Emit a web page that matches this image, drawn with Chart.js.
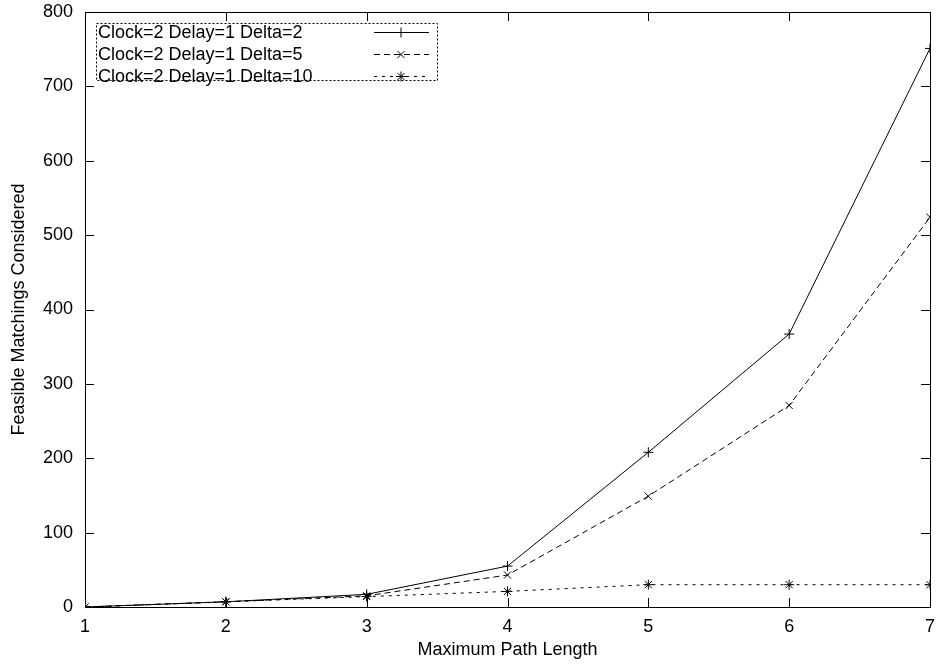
<!DOCTYPE html>
<html>
<head>
<meta charset="utf-8">
<script src="https://cdn.jsdelivr.net/npm/chart.js@4/dist/chart.umd.min.js"></script>
<style>
  html, body { margin: 0; padding: 0; background: #fff; }
  #wrap { width: 936px; height: 672px; }
</style>
</head>
<body>
<div id="wrap"><canvas id="chart" width="936" height="672"></canvas></div>
<script>
const pathLength = [1, 2, 3, 4, 5, 6, 7];
const delta2 = [0, 7, 17, 55, 208, 367, 751];
const delta5 = [0, 7, 15, 43, 149, 271, 524];
const delta10 = [0, 7, 14, 21, 30, 30, 30];
const seriesNames = ['Clock=2 Delay=1 Delta=2', 'Clock=2 Delay=1 Delta=5', 'Clock=2 Delay=1 Delta=10'];

const FONT = '"Liberation Sans", Arial, Helvetica, sans-serif';

const toPts = ys => pathLength.map((x, i) => ({ x, y: ys[i] }));

const styles = [
    { dash: [], point: 'cross' },
    { dash: [6, 4], point: 'crossRot' },
    { dash: [3, 5], point: 'star' }
];

// gnuplot-like frame with inward ticks and a boxed legend
const gnuFrame = {
    id: 'gnuFrame',
    afterDatasetsDraw(chart) {
        const { ctx, chartArea: a, scales: { x, y } } = chart;
        ctx.save();
        ctx.strokeStyle = '#000';
        ctx.lineWidth = 1;
        ctx.setLineDash([]);
        ctx.strokeRect(a.left + 0.5, a.top + 0.5, a.right - a.left, a.bottom - a.top);
        const t = 9;
        ctx.beginPath();
        x.ticks.forEach(tk => {
            const px = Math.round(x.getPixelForValue(tk.value)) + 0.5;
            ctx.moveTo(px, a.bottom); ctx.lineTo(px, a.bottom - t);
            ctx.moveTo(px, a.top); ctx.lineTo(px, a.top + t);
        });
        y.ticks.forEach(tk => {
            const py = Math.round(y.getPixelForValue(tk.value)) + 0.5;
            ctx.moveTo(a.left, py); ctx.lineTo(a.left + t, py);
            ctx.moveTo(a.right, py); ctx.lineTo(a.right - t, py);
        });
        ctx.stroke();

        // legend
        const bx = a.left + 11, by = a.top + 11, bw = 341, bh = 57;
        ctx.setLineDash([2, 2]);
        ctx.strokeRect(bx + 0.5, by + 0.5, bw, bh);
        ctx.font = '18px ' + FONT;
        ctx.textBaseline = 'middle';
        ctx.fillStyle = '#000';
        chart.data.datasets.forEach((ds, i) => {
            const ry = by + 9 + i * 22;
            ctx.fillText(ds.label, bx + 2, ry + 1);
            ctx.setLineDash(styles[i].dash);
            ctx.beginPath();
            ctx.moveTo(bx + 278, ry + 0.5);
            ctx.lineTo(bx + 333, ry + 0.5);
            ctx.stroke();
            ctx.setLineDash([]);
            Chart.helpers.drawPoint(ctx, { pointStyle: styles[i].point, radius: 5, borderWidth: 1 }, bx + 305, ry + 0.5);
        });
        ctx.restore();
    }
};

new Chart(document.getElementById('chart'), {
    type: 'scatter',
    data: {
        datasets: [delta2, delta5, delta10].map((ys, i) => ({
            label: seriesNames[i],
            data: toPts(ys),
            showLine: true,
            borderColor: '#000',
            backgroundColor: '#000',
            borderWidth: 1,
            borderDash: styles[i].dash,
            pointStyle: styles[i].point,
            pointRadius: 5,
            pointBorderWidth: 1,
            pointBorderColor: '#000'
        }))
    },
    options: {
        responsive: false,
        animation: false,
        layout: { padding: { top: 12, right: 6, left: 0, bottom: 11 } },
        plugins: { legend: { display: false }, tooltip: { enabled: false } },
        scales: {
            x: {
                type: 'linear', min: 1, max: 7,
                grid: { display: false, drawTicks: false },
                border: { display: false },
                ticks: { stepSize: 1, color: '#000', font: { family: FONT, size: 18 }, padding: 9 },
                title: { display: true, text: 'Maximum Path Length', color: '#000', font: { family: FONT, size: 18 }, padding: { top: 0, bottom: 0 } },
                afterFit(s) { s.height = 54; s.paddingLeft = 0; s.paddingRight = 0; }
            },
            y: {
                min: 0, max: 800,
                grid: { display: false, drawTicks: false },
                border: { display: false },
                ticks: { stepSize: 100, color: '#000', font: { family: FONT, size: 18 }, padding: 12 },
                title: { display: true, text: 'Feasible Matchings Considered', color: '#000', font: { family: FONT, size: 18 }, padding: { top: 8, bottom: 0 } },
                afterFit(s) { s.width = 85; s.paddingTop = 0; s.paddingBottom = 0; }
            }
        }
    },
    plugins: [gnuFrame]
});
</script>
</body>
</html>
